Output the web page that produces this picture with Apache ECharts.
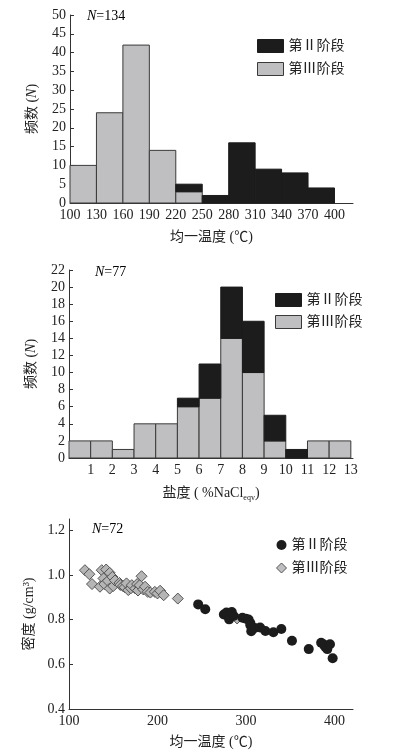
<!DOCTYPE html>
<html>
<head>
<meta charset="utf-8">
<script src="https://cdn.jsdelivr.net/npm/echarts@6/dist/echarts.min.js"></script>
<style>
  html, body { margin: 0; padding: 0; background: #fff; }
  #main { width: 398px; height: 753px; }
</style>
</head>
<body>
<div id="main"></div>
<script>
// 均一温度直方图
const tempEdges = [100, 130, 160, 190, 220, 250, 280, 310, 340, 370, 400];
const tempStage3 = [10, 24, 42, 14, 3, 0, 0, 0, 0, 0];
const tempStage2 = [0, 0, 0, 0, 2, 2, 16, 9, 8, 4];

// 盐度直方图
const salEdges = [0, 1, 2, 3, 4, 5, 6, 7, 8, 9, 10, 11, 12, 13];
const salStage3 = [2, 2, 1, 4, 4, 6, 7, 14, 10, 2, 0, 2, 2];
const salStage2 = [0, 0, 0, 0, 0, 1, 4, 6, 6, 3, 1, 0, 0];

// 密度-温度散点
const densStage2 = [
  [246, 0.868], [254, 0.846], [275, 0.823], [278, 0.832], [281, 0.801], [284, 0.834],
  [286, 0.816], [296, 0.808], [300, 0.804], [303, 0.800], [305, 0.785], [305, 0.775],
  [307, 0.758], [306, 0.748], [310, 0.762], [316, 0.765], [322, 0.749], [331, 0.743],
  [340, 0.758], [352, 0.705], [371, 0.668], [385, 0.696], [388, 0.688], [390, 0.676],
  [392, 0.668], [395, 0.690], [398, 0.627]
];
const densStage3 = [
  [118, 1.021], [123, 1.003], [126, 0.959], [135, 0.947], [137, 1.021], [142, 1.024],
  [146, 1.009], [139, 0.984], [140, 0.959], [144, 0.973], [149, 0.991], [146, 0.939],
  [150, 0.950], [152, 0.975], [157, 0.964], [158, 0.955], [161, 0.950], [163, 0.945],
  [165, 0.962], [167, 0.932], [170, 0.940], [171, 0.954], [175, 0.939], [177, 0.959],
  [178, 0.930], [180, 0.954], [182, 0.994], [184, 0.935], [186, 0.947], [189, 0.924],
  [192, 0.921], [197, 0.924], [200, 0.917], [203, 0.929], [207, 0.909], [223, 0.894],
  [290, 0.805]
];

const tempTicks = [100, 130, 160, 190, 220, 250, 280, 310, 340, 370, 400];

const FONT = "'Liberation Serif', 'Noto Sans CJK SC', serif";
const BLACK = '#1c1c1c';
const GRAY = '#bfbfc1';
const EDGE = '#3a3a3a';

// 把直方图转成 [x0, x1, 底, 顶]
function binData(edges, vals, base) {
  let out = [];
  for (let i = 0; i < vals.length; i++) {
    let b = base ? base[i] : 0;
    out.push([edges[i], edges[i + 1], b, b + vals[i]]);
  }
  return out;
}

function histRender(fill, stroke) {
  return function (params, api) {
    let x0 = api.value(0), x1 = api.value(1), y0 = api.value(2), y1 = api.value(3);
    if (y1 <= y0) return;
    let p0 = api.coord([x0, y0]);
    let p1 = api.coord([x1, y1]);
    return {
      type: 'rect',
      shape: { x: p0[0], y: p1[1], width: p1[0] - p0[0], height: p0[1] - p1[1] },
      style: { fill: fill, stroke: stroke, lineWidth: 1 }
    };
  };
}

const labelStyle = { color: '#222', fontSize: 14, fontFamily: FONT };
const nameRich = {
  a: { fontSize: 14, fontFamily: FONT, color: '#222' },
  i: { fontSize: 14, fontFamily: FONT, color: '#222', fontStyle: 'italic' },
  sub: { fontSize: 8, fontFamily: FONT, color: '#222', padding: [9, 0, 0, 0] }
};

function yAxisOf(grid, min, max, interval, name, fmt) {
  return {
    type: 'value', gridIndex: grid, min: min, max: max, interval: interval,
    name: name, nameLocation: 'middle', nameGap: 31, nameRotate: 90,
    nameTextStyle: { rich: nameRich },
    axisLine: { show: true, lineStyle: { color: '#333', width: 1 } },
    axisTick: { show: true, inside: true, length: 4, lineStyle: { color: '#333' } },
    axisLabel: Object.assign({ margin: 4, formatter: fmt }, labelStyle),
    splitLine: { show: false }
  };
}

function xAxisOf(grid, min, max, interval, name, fmt, gap) {
  return {
    type: 'value', gridIndex: grid, min: min, max: max, interval: interval,
    name: name, nameLocation: 'middle', nameGap: gap,
    nameTextStyle: { rich: nameRich },
    axisLine: { show: true, onZero: false, lineStyle: { color: '#333', width: 1 } },
    axisTick: { show: false },
    axisLabel: Object.assign({ margin: 5, formatter: fmt, showMinLabel: true }, labelStyle),
    splitLine: { show: false }
  };
}

const legendText = { fontSize: 14, fontFamily: FONT, color: '#222' };

const option = {
  backgroundColor: '#fff',
  animation: false,
  grid: [
    { left: 70, top: 15, width: 283, height: 188 },
    { left: 69, top: 270, width: 284, height: 188 },
    { left: 69, top: 519, width: 284, height: 190 }
  ],
  xAxis: [
    xAxisOf(0, 100, 421, 30, '{a|均一温度 (℃)}',
      v => (tempTicks.indexOf(v) >= 0 ? String(v) : ''), 27),
    xAxisOf(1, 0, 13.1, 1, '{a|盐度 ( %NaCl}{sub|eqv}{a|)}',
      v => (Number.isInteger(v) && v > 0 ? String(v) : ''), 27),
    xAxisOf(2, 100, 421, 100, '{a|均一温度 (℃)}',
      v => (v % 100 === 0 ? String(v) : ''), 26)
  ],
  yAxis: [
    yAxisOf(0, 0, 50, 5, '{a|频数 (}{i|N}{a|)}'),
    yAxisOf(1, 0, 22, 2, '{a|频数 (}{i|N}{a|)}'),
    yAxisOf(2, 0.4, 1.25, 0.2, '{a|密度 (g/cm³)}', v => v.toFixed(1))
  ],
  legend: [
    {
      orient: 'vertical', left: 257, top: 39, padding: 0, itemGap: 9,
      itemWidth: 26, itemHeight: 13, textStyle: legendText,
      data: [
        { name: '第Ⅱ阶段', icon: 'rect', itemStyle: { color: BLACK, borderColor: BLACK, borderWidth: 1 } },
        { name: '第Ⅲ阶段', icon: 'rect', itemStyle: { color: GRAY, borderColor: EDGE, borderWidth: 1 } }
      ]
    },
    {
      orient: 'vertical', left: 275, top: 293, padding: 0, itemGap: 8,
      itemWidth: 26, itemHeight: 13, textStyle: legendText,
      data: [
        { name: '第Ⅱ阶段', icon: 'rect', itemStyle: { color: BLACK, borderColor: BLACK, borderWidth: 1 } },
        { name: '第Ⅲ阶段', icon: 'rect', itemStyle: { color: GRAY, borderColor: EDGE, borderWidth: 1 } }
      ]
    },
    {
      orient: 'vertical', left: 276, top: 538, padding: 0, itemGap: 9,
      itemWidth: 10, itemHeight: 10, textStyle: legendText,
      data: [
        { name: '第Ⅱ阶段', icon: 'circle', itemStyle: { color: BLACK, borderColor: BLACK, borderWidth: 0 } },
        { name: '第Ⅲ阶段', icon: 'diamond', itemStyle: { color: GRAY, borderColor: '#555', borderWidth: 1 } }
      ]
    }
  ],
  graphic: [
    { type: 'text', left: 87, top: 9, style: { text: '{i|N}{a|=134}', rich: nameRich } },
    { type: 'text', left: 95, top: 265, style: { text: '{i|N}{a|=77}', rich: nameRich } },
    { type: 'text', left: 92, top: 522, style: { text: '{i|N}{a|=72}', rich: nameRich } }
  ],
  series: [
    {
      name: '第Ⅲ阶段', type: 'custom', xAxisIndex: 0, yAxisIndex: 0,
      renderItem: histRender(GRAY, EDGE), encode: { x: [0, 1], y: [2, 3] },
      itemStyle: { color: GRAY },
      data: binData(tempEdges, tempStage3)
    },
    {
      name: '第Ⅱ阶段', type: 'custom', xAxisIndex: 0, yAxisIndex: 0,
      renderItem: histRender(BLACK, BLACK), encode: { x: [0, 1], y: [2, 3] },
      itemStyle: { color: BLACK },
      data: binData(tempEdges, tempStage2, tempStage3)
    },
    {
      name: '第Ⅲ阶段', type: 'custom', xAxisIndex: 1, yAxisIndex: 1,
      renderItem: histRender(GRAY, EDGE), encode: { x: [0, 1], y: [2, 3] },
      itemStyle: { color: GRAY },
      data: binData(salEdges, salStage3)
    },
    {
      name: '第Ⅱ阶段', type: 'custom', xAxisIndex: 1, yAxisIndex: 1,
      renderItem: histRender(BLACK, BLACK), encode: { x: [0, 1], y: [2, 3] },
      itemStyle: { color: BLACK },
      data: binData(salEdges, salStage2, salStage3)
    },
    {
      name: '第Ⅲ阶段', type: 'scatter', xAxisIndex: 2, yAxisIndex: 2,
      symbol: 'diamond', symbolSize: 11,
      itemStyle: { color: '#b5b5b5', borderColor: '#555', borderWidth: 1, opacity: 1 },
      data: densStage3
    },
    {
      name: '第Ⅱ阶段', type: 'scatter', xAxisIndex: 2, yAxisIndex: 2,
      symbol: 'circle', symbolSize: 10,
      itemStyle: { color: BLACK, opacity: 1 },
      data: densStage2
    }
  ]
};

const chart = echarts.init(document.getElementById('main'), null, { renderer: 'canvas' });
chart.setOption(option);
</script>
</body>
</html>
